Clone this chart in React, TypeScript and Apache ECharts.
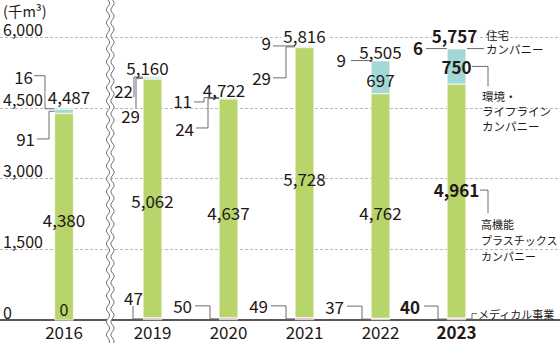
import React, { useEffect, useRef } from 'react';
import * as echarts from 'echarts';

// ---------- data ----------
const years = ['2016', '2019', '2020', '2021', '2022', '2023'];
const medical = [0, 47, 50, 49, 37, 40];
const plastics = [4380, 5062, 4637, 5728, 4762, 4961];
const environment = [91, 29, 24, 29, 697, 750];
const housing = [16, 22, 11, 9, 9, 6];
const totals = [4487, 5160, 4722, 5816, 5505, 5757];
const yTicks = [0, 1500, 3000, 4500, 6000];
const yTickLabels = ['0', '1,500', '3,000', '4,500', '6,000'];
const unitLabel = '(千m³)';
const legendHousing = '住宅\nカンパニー';
const legendEnv = '環境・\nライフライン\nカンパニー';
const legendPlastics = '高機能\nプラスチックス\nカンパニー';
const legendMedical = 'メディカル事業';

// ---------- styles ----------
const FONT = '"Noto Sans CJK JP", "Noto Sans", sans-serif';
const INK = '#231815';
const LEADER = '#6e6b6b';
const C_MED = '#e6bfd7';
const C_PLA = '#b7d56b';
const C_ENV = '#a2d9d6';
const C_HOU = '#8e8e8e';
const BAR_W = 19;

// label layout (pixel offsets relative to bar geometry)
const totalOff = [[5, -12], [-5, -9], [-4.5, -8], [0, -10.7], [0, -9.3], [-2, -13]];
const plaDy = [3, 1.6, 4.7, -4.6, 7, -12];
const housingLayout: any[] = [
  { tx: -21.5, ty: -32.7, pts: [[-20.5, -33], [-9.5, -33], [-9.5, 0], [0, 0]] },
  { tx: -10, ty: 13, pts: [[-9, 20], [-9, 0], [0, 0]] },
  { tx: -27, ty: 3.4, pts: [[-25, 4.4], [-15, 4.4], [-15, 0], [0, 0]] },
  { tx: -24, ty: -3, pts: [[-22, 0], [0, 0]] },
  { tx: -25, ty: -1, pts: [[-20, 0], [0, 0]] },
  { tx: -24, ty: -1, pts: [[-21, 0], [0, 0]] },
];
const envLayout: any[] = [
  { tx: -19.5, ty: 27.7, pts: [[-17.5, 27.7], [-5.5, 27.7], [-5.5, 0], [0, 0]] },
  { tx: -3, ty: 37.2, pts: [[-7, 29.7], [-7, 0], [0, 0]] },
  { tx: -25, ty: 30, pts: [[-23, 29.6], [-11, 29.6], [-11, 0], [0, 0]] },
  { tx: -24, ty: 30.7, pts: [[-22, 31], [-9, 31], [-9, 0], [0, 0]] },
  { inside: true, dy: 2 },
  { inside: true, dy: 0 },
];
const medLayout: any[] = [
  { inside: true, dy: -11 },
  { tx: -9.5, ty: -21.4, center: true, pts: [[-10, -13], [-10, 0], [0, 0]] },
  { tx: -27, ty: -13, pts: [[-24, -13], [-9, -13], [-9, 0], [0, 0]] },
  { tx: -27, ty: -13, pts: [[-24, -13], [-9, -13], [-9, 0], [0, 0]] },
  { tx: -27, ty: -13, pts: [[-24, -13], [-9, -13], [-9, 0], [0, 0]] },
  { tx: -27, ty: -13, pts: [[-23, -13], [-9, -13], [-9, 0], [0, 0]] },
];

const fmt = (v: number) => v.toLocaleString('en-US');

export default function App() {
  const ref = useRef<HTMLDivElement>(null);
  useEffect(() => {
    document.body.style.margin = '0';
    const chart = echarts.init(ref.current!, null, { renderer: 'svg' });
    const segs = [
      { data: medical, color: C_MED },
      { data: plastics, color: C_PLA },
      { data: environment, color: C_ENV },
      { data: housing, color: C_HOU },
    ];
    const series: any[] = [];
    [1, 2].forEach((g) => {
      segs.forEach((s) => {
        series.push({
          type: 'bar',
          xAxisIndex: g,
          yAxisIndex: g,
          stack: 'g' + g,
          barWidth: BAR_W,
          silent: true,
          data: g === 1 ? s.data.slice(0, 1) : s.data.slice(1),
          itemStyle: { color: s.color, borderColor: '#ffffff', borderWidth: 0.5 },
        });
      });
    });
    const xLabel = {
      interval: 0,
      margin: 3,
      fontSize: 17,
      lineHeight: 17,
      color: INK,
      fontFamily: FONT,
      formatter: (v: string) => (v === years[years.length - 1] ? `{b|${v}}` : v),
      rich: { b: { fontWeight: 'bold', fontSize: 17, lineHeight: 17, color: INK, fontFamily: FONT } },
    };
    const gridBase = { top: 37, bottom: 40, containLabel: false, outerBoundsMode: 'none' };
    const option: any = {
      animation: false,
      grid: [
        { ...gridBase, left: 0, right: 0 },
        { ...gridBase, left: 0, width: 128 },
        { ...gridBase, left: 114.5, width: 380 },
      ],
      xAxis: [
        {
          gridIndex: 0, type: 'category', data: [''],
          axisLine: { show: true, lineStyle: { color: '#5a5656', width: 2 } },
          axisTick: { show: false }, axisLabel: { show: false }, splitLine: { show: false },
        },
        {
          gridIndex: 1, type: 'category', data: years.slice(0, 1),
          axisLine: { show: false }, axisTick: { show: false }, splitLine: { show: false }, axisLabel: xLabel,
        },
        {
          gridIndex: 2, type: 'category', data: years.slice(1),
          axisLine: { show: false }, axisTick: { show: false }, splitLine: { show: false }, axisLabel: xLabel,
        },
      ],
      yAxis: [
        {
          gridIndex: 0, type: 'value', min: 0, max: 6000, interval: 1500,
          axisLine: { show: false }, axisTick: { show: false },
          splitLine: { show: true, lineStyle: { color: '#b9b9b9', type: [3, 2], width: 1 } },
          axisLabel: {
            inside: true, margin: 3, verticalAlign: 'bottom', padding: [0, 0, 2, 0],
            fontSize: 16, lineHeight: 13, color: INK, fontFamily: FONT,
            formatter: (v: number) => yTickLabels[yTicks.indexOf(v)] ?? '',
          },
        },
        { gridIndex: 1, type: 'value', min: 0, max: 6000, show: false, splitLine: { show: false } },
        { gridIndex: 2, type: 'value', min: 0, max: 6000, show: false, splitLine: { show: false } },
      ],
      series,
    };
    chart.setOption(option);

    const px = (i: number, v: number): number[] =>
      i === 0
        ? (chart.convertToPixel({ gridIndex: 1 }, [years[0], v]) as number[])
        : (chart.convertToPixel({ gridIndex: 2 }, [years[i], v]) as number[]);

    const els: any[] = [];
    const T = (x: number, y: number, text: string, o: any = {}) =>
      els.push({
        type: 'text', x, y, z: 100,
        style: {
          text, fill: INK, fontFamily: FONT, fontSize: o.size ?? 17,
          fontWeight: o.bold ? 'bold' : 'normal',
          align: o.align ?? 'center', verticalAlign: o.va ?? 'middle',
          lineHeight: o.lh ?? 14, backgroundColor: o.bg, padding: o.pad,
        },
      });
    const L = (pts: number[][]) =>
      els.push({ type: 'polyline', z: 99, shape: { points: pts }, style: { stroke: LEADER, lineWidth: 1, fill: null } });

    const last = years.length - 1;
    years.forEach((_, i) => {
      const bold = i === last;
      const vals = [medical[i], plastics[i], environment[i], housing[i]];
      const cx = px(i, 0)[0];
      const yv = (v: number) => px(i, v)[1];
      const bL = cx - BAR_W / 2;
      const bR = cx + BAR_W / 2;
      const mids: number[] = [];
      let b = 0;
      vals.forEach((v) => { mids.push((yv(b) + yv(b + v)) / 2); b += v; });
      const top = yv(b);

      T(cx + totalOff[i][0], top + totalOff[i][1], fmt(totals[i]),
        { bold, bg: '#ffffff', pad: bold ? [0, 0] : [0, 2], lh: 12 });
      const plaY = mids[1] + plaDy[i];
      T(cx, plaY, fmt(plastics[i]), { bold });

      const leader = (lay: any, m: number, value: number) => {
        if (lay.inside) { T(cx, m + lay.dy, fmt(value), { bold, lh: 12, size: i === 0 ? 16 : 17 }); return; }
        L(lay.pts.map((p: number[]) => [bL + p[0], m + p[1]]));
        T(bL + lay.tx, m + lay.ty, fmt(value), { bold, align: lay.center ? 'center' : 'right', lh: 12 });
      };
      leader(housingLayout[i], mids[3], housing[i]);
      leader(envLayout[i], mids[2], environment[i]);
      leader(medLayout[i], mids[0], medical[i]);

      if (i === last) {
        L([[bR + 1, mids[3]], [bR + 18, mids[3]]]);
        T(bR + 20, mids[3] + 7, legendHousing, { size: 11.5, align: 'left', va: 'bottom', lh: 14 });
        L([[bR + 6, mids[2]], [bR + 22, mids[2]], [bR + 22, mids[2] + 20]]);
        T(bR + 16, mids[2] + 22, legendEnv, { size: 11.5, align: 'left', va: 'top', lh: 15 });
        L([[bR + 14, plaY + 1], [bR + 22, plaY + 1], [bR + 22, plaY + 24]]);
        T(bR + 15, plaY + 27, legendPlastics, { size: 11, align: 'left', va: 'top', lh: 16 });
        const mm = mids[0];
        L([[bR, mm], [bR + 6, mm], [bR + 6, mm - 5.5], [bR + 11, mm - 5.5]]);
        T(bR + 12, mm - 5.5, legendMedical, { size: 11, align: 'left', lh: 12 });
      }
    });

    T(3, 10.5, unitLabel, { size: 14.5, align: 'left', lh: 13 });

    // axis break (decorative wavy double line)
    const wave = (xc: number) => {
      const pts: number[][] = [];
      for (let y = 0; y <= 343; y += 1) pts.push([xc + 1.6 * Math.sin((y * 2 * Math.PI) / 13), y]);
      return pts;
    };
    const w1 = wave(108);
    const w2 = wave(112.5);
    els.push({ type: 'polygon', z: 90, shape: { points: [...w1, ...w2.slice().reverse()] }, style: { fill: '#ffffff', stroke: null } });
    els.push({ type: 'polyline', z: 91, shape: { points: w1 }, style: { stroke: '#777', lineWidth: 1, fill: null } });
    els.push({ type: 'polyline', z: 91, shape: { points: w2 }, style: { stroke: '#777', lineWidth: 1, fill: null } });

    chart.setOption({ graphic: els });
    return () => chart.dispose();
  }, []);
  return <div ref={ref} style={{ width: 560, height: 360 }} />;
}
